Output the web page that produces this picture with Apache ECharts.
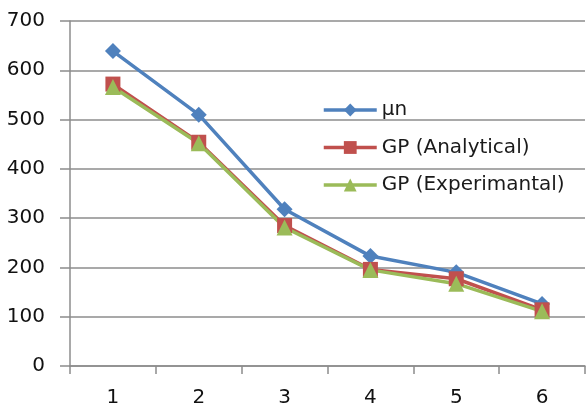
<!DOCTYPE html>
<html><head><meta charset="utf-8">
<script src="https://cdn.jsdelivr.net/npm/echarts@6/dist/echarts.min.js"></script>
<style>html,body{margin:0;padding:0;background:#fff}#c{width:588px;height:408px}</style>
</head><body><div id="c"></div>
<script>
var categories = ['1','2','3','4','5','6'];
var seriesNames = ['\u03bcn','GP (Analytical)','GP (Experimantal)'];
var mun = [639, 510, 318, 223, 190, 126];
var gpAnalytical = [572, 454, 285, 196, 177, 114];
var gpExperimental = [566, 452, 281, 195, 167, 111];
var yTicks = {min: 0, max: 700, interval: 100};

var chart = echarts.init(document.getElementById('c'));
var font = 'DejaVu Sans';
function mk(name, data, color, symbol, size) {
  return {name: name, type: 'line', data: data, symbol: symbol, symbolSize: size,
    lineStyle: {color: color, width: 3.5}, itemStyle: {color: color}, z: 3, animation: false};
}
chart.setOption({
  animation: false,
  grid: {left: 70, top: 21, right: 3, bottom: 40, containLabel: false},
  legend: {orient: 'vertical', left: 317, top: 95, itemWidth: 53, itemHeight: 16, itemGap: 17.5,
    lineStyle: {width: 3.5},
    textStyle: {fontFamily: font, fontSize: 20, color: '#1a1a1a'}, data: seriesNames},
  xAxis: {type: 'category', data: categories, boundaryGap: true,
    axisLine: {lineStyle: {color: '#8c8c8c', width: 1.5}},
    axisTick: {show: true, length: 8, lineStyle: {color: '#8c8c8c', width: 1.5}},
    axisLabel: {fontFamily: font, fontSize: 20, color: '#111', margin: 22}},
  yAxis: {type: 'value', min: yTicks.min, max: yTicks.max, interval: yTicks.interval,
    axisLine: {show: true, lineStyle: {color: '#8c8c8c', width: 1.5}},
    axisTick: {show: true, length: 10, lineStyle: {color: '#8c8c8c', width: 1.5}},
    splitLine: {show: true, lineStyle: {color: '#8c8c8c', width: 1.5}},
    axisLabel: {fontFamily: font, fontSize: 20, color: '#111', margin: 25}},
  series: [
    mk(seriesNames[0], mun, '#4F81BD', 'diamond', 16),
    mk(seriesNames[1], gpAnalytical, '#C0504D', 'rect', 15),
    mk(seriesNames[2], gpExperimental, '#9BBB59', 'triangle', 16)
  ]
});
</script></body></html>
